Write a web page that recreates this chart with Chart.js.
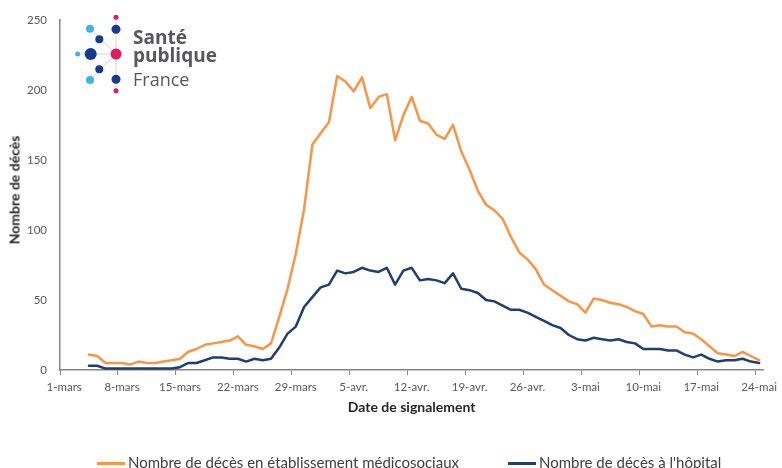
<!DOCTYPE html>
<html>
<head>
<meta charset="utf-8">
<script src="https://cdn.jsdelivr.net/npm/chart.js@4.4.0/dist/chart.umd.min.js"></script>
<style>
html, body { margin: 0; padding: 0; background: #fff; }
#cadre { position: relative; width: 782px; height: 468px; font-family: Lato, sans-serif; }
#graph { position: absolute; left: 0; top: 0; }
#logo { position: absolute; left: 0; top: 0; }
#ytitre { position: absolute; left: 14px; top: 190px; transform: translate(-50%, -50%) rotate(-90deg);
  white-space: nowrap; font: bold 14px Lato, sans-serif; color: #262626; }
.leg { position: absolute; top: 453px; height: 18px; line-height: 18px; font-size: 15px; color: #404040; white-space: nowrap; }
.trait { display: inline-block; width: 28px; height: 3px; vertical-align: middle; margin-right: 3px; position: relative; top: -1px; }
</style>
</head>
<body>
<div id="cadre">
  <canvas id="graph" width="782" height="468"></canvas>
  <svg id="logo" width="230" height="100">
    <g stroke="#d6d6d6" stroke-width="1">
      <line x1="116" y1="17" x2="116" y2="91"/>
      <line x1="78" y1="54" x2="116" y2="54"/>
      <line x1="90" y1="28.7" x2="116" y2="54"/>
      <line x1="90" y1="80" x2="116" y2="54"/>
    </g>
    <circle cx="116" cy="17.3" r="2.5" fill="#e5195e"/>
    <circle cx="116" cy="29.3" r="4.5" fill="#173a8c"/>
    <circle cx="90" cy="28.7" r="4" fill="#3bb4e8"/>
    <circle cx="99.3" cy="39.3" r="4" fill="#173a8c"/>
    <circle cx="77.7" cy="54" r="2.5" fill="#3bb4e8"/>
    <circle cx="90.7" cy="54" r="6" fill="#173a8c"/>
    <circle cx="116" cy="54" r="5.5" fill="#e5195e"/>
    <circle cx="99.3" cy="69.3" r="4" fill="#173a8c"/>
    <circle cx="90" cy="80" r="4" fill="#3bb4e8"/>
    <circle cx="116" cy="79.3" r="4.5" fill="#173a8c"/>
    <circle cx="116" cy="90.7" r="2.5" fill="#e5195e"/>
    <g fill="#58585a" font-family="Open Sans, sans-serif">
      <text x="133" y="43.5" font-size="19" font-weight="bold">Santé</text>
      <text x="133" y="62" font-size="19" font-weight="bold">publique</text>
      <text x="133" y="85.5" font-size="18">France</text>
    </g>
  </svg>
  <div id="ytitre">Nombre de décès</div>
  <div class="leg" style="left:97px"><span class="trait" style="background:#f79646"></span>Nombre de décès en établissement médicosociaux</div>
  <div class="leg" style="left:508px"><span class="trait" style="background:#203f6e"></span>Nombre de décès à l'hôpital</div>
</div>
<script>
// jours du 1-mars au 24-mai
const mois = ['mars', 'avr.', 'mai'];
const nbJours = [31, 30, 24];
const dates = [];
mois.forEach(function (m, k) {
  for (let j = 1; j <= nbJours[k]; j++) dates.push(j + '-' + m);
});

// décès en établissement médicosociaux (orange)
const decesEms = [null, null, null, 11, 10, 5, 5, 5, 4, 6,
  5, 5, 6, 7, 8, 13, 15, 18, 19, 20,
  21, 24, 18, 17, 15, 19, 38, 58, 83, 115,
  161, 169, 177, 210, 206, 199, 209, 187, 195, 197,
  164, 182, 195, 178, 176, 168, 165, 175, 156, 143,
  128, 118, 114, 108, 95, 84, 79, 72, 61, 57,
  53, 49, 47, 41, 51, 50, 48, 47, 45, 42,
  40, 31, 32, 31, 31, 27, 26, 22, 17, 12,
  11, 10, 13, 10, 7];

// décès à l'hôpital (bleu)
const decesHopital = [null, null, null, 3, 3, 1, 1, 1, 1, 1,
  1, 1, 1, 1, 2, 5, 5, 7, 9, 9,
  8, 8, 6, 8, 7, 8, 16, 26, 31, 45,
  52, 59, 61, 71, 69, 70, 73, 71, 70, 73,
  61, 71, 73, 64, 65, 64, 62, 69, 58, 57,
  55, 50, 49, 46, 43, 43, 41, 38, 35, 32,
  30, 25, 22, 21, 23, 22, 21, 22, 20, 19,
  15, 15, 15, 14, 14, 11, 9, 11, 8, 6,
  7, 7, 8, 6, 5];

const gris = '#868686';

const ctx = document.getElementById('graph').getContext('2d');
new Chart(ctx, {
  type: 'line',
  data: {
    labels: dates,
    datasets: [{
      label: 'Nombre de décès en établissement médicosociaux',
      data: decesEms,
      borderColor: '#f79646',
      borderWidth: 2.5,
      pointRadius: 0,
      borderJoinStyle: 'round',
      borderCapStyle: 'round'
    }, {
      label: "Nombre de décès à l'hôpital",
      data: decesHopital,
      borderColor: '#203f6e',
      borderWidth: 2.5,
      pointRadius: 0,
      borderJoinStyle: 'round',
      borderCapStyle: 'round'
    }]
  },
  options: {
    responsive: false,
    animation: false,
    layout: { padding: { left: 0, top: 18, right: 14, bottom: 0 } },
    plugins: { legend: { display: false }, tooltip: { enabled: false } },
    scales: {
      x: {
        offset: true,
        grid: {
          offset: true,
          drawOnChartArea: false,
          tickLength: 5,
          lineWidth: 1,
          color: function (c) { return c.index % 7 === 0 ? gris : 'rgba(0,0,0,0)'; }
        },
        border: { color: gris, width: 1.5 },
        ticks: {
          autoSkip: false,
          maxRotation: 0,
          padding: 5,
          color: '#595959',
          font: { family: 'Lato', size: 11.5 },
          callback: function (v, i) { return i % 7 === 0 ? dates[i] : ''; }
        },
        title: {
          display: true,
          text: 'Date de signalement',
          color: '#262626',
          font: { family: 'Lato', size: 14, weight: 'bold' },
          padding: { top: 0, bottom: 52 }
        },
        afterFit: function (s) { s.height = 98; }
      },
      y: {
        min: 0,
        max: 250,
        grid: { display: false, drawTicks: false },
        border: { color: gris, width: 1.5 },
        ticks: {
          stepSize: 50,
          padding: 13,
          color: '#595959',
          font: { family: 'Lato', size: 11.5 }
        },
        afterFit: function (s) { s.width = 60; }
      }
    }
  }
});
</script>
</body>
</html>
